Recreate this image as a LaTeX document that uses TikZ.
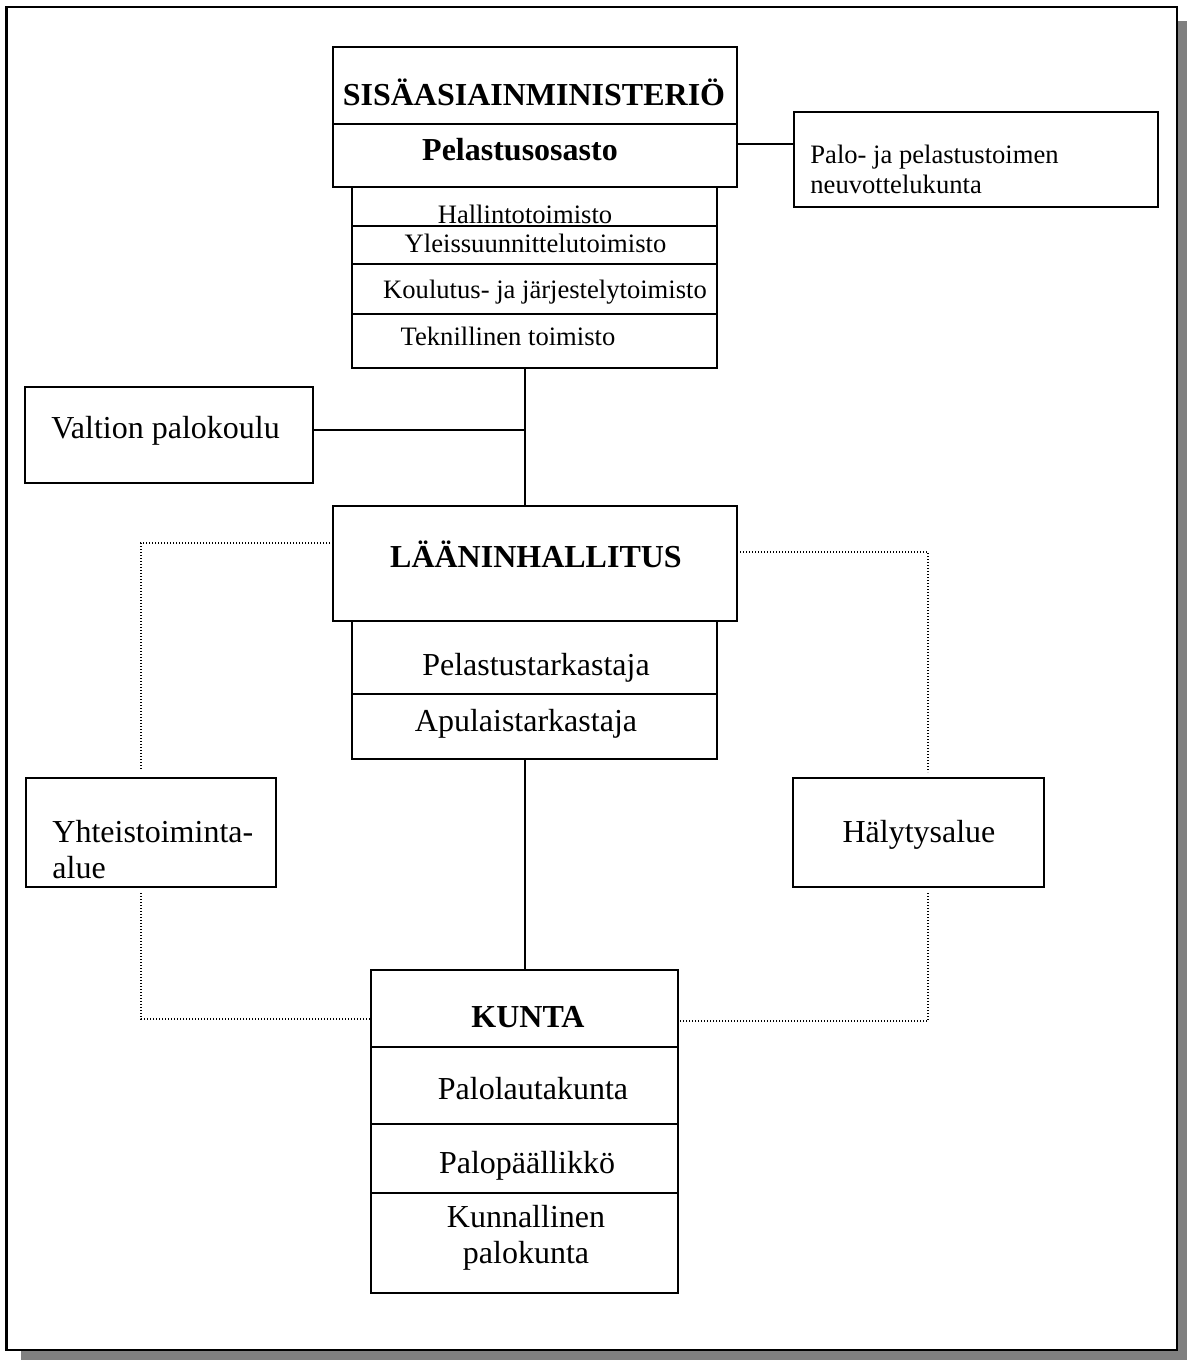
\documentclass[tikz,border=0pt]{standalone}
\usepackage{fontspec}
\setmainfont{Liberation Serif}
\begin{document}
\begin{tikzpicture}[x=0.5pt,y=-0.5pt,
	box/.style={draw,line width=1pt,inner sep=0pt,outer sep=0pt},
	sz/.style 2 args={minimum width=#1*0.5pt,minimum height=#2*0.5pt},
	txt/.style={inner sep=0pt,anchor=base,font=\fontsize{16}{18}\selectfont},
	hd/.style={txt,font=\fontsize{16}{18}\selectfont\bfseries},
	sm/.style={txt,font=\fontsize{13.3}{15}\selectfont},
	link/.style={line width=1pt},
	dotline/.style={line width=0.6pt,dash pattern=on 0.6pt off 0.9pt}]
	\useasboundingbox (0,0) rectangle (1187,1360);
	\fill[gray] (21,21) rectangle (1187,1360);
	\draw[line width=1.25pt,fill=white] (6.5,7) rectangle (1177,1350);
	% ministerio
	\node[box,sz={404}{77}] (sim) at (535,85.5) {};
	\node[box,sz={404}{63}] (osasto) at (535,155.5) {};
	\node[box,sz={365}{39}] (hallinto) at (534.5,206.5) {};
	\node[box,sz={365}{38}] (yleis) at (534.5,245) {};
	\node[box,sz={365}{50}] (koulutus) at (534.5,289) {};
	\node[box,sz={365}{54}] (tekn) at (534.5,341) {};
	\node[box,sz={364}{95}] (neuvottelu) at (976,159.5) {};
	\node[box,sz={288}{96}] (palokoulu) at (169,435) {};
	% laani
	\node[box,sz={404}{115}] (laani) at (535,563.5) {};
	\node[box,sz={365}{73}] (tarkastaja) at (534.5,657.5) {};
	\node[box,sz={365}{65}] (apulainen) at (534.5,726.5) {};
	\node[box,sz={250}{109}] (yhteis) at (151,832.5) {};
	\node[box,sz={251}{109}] (halytys) at (918.5,832.5) {};
	% kunta
	\node[box,sz={307}{77}] (kunta) at (524.5,1008.5) {};
	\node[box,sz={307}{77}] (lautakunta) at (524.5,1085.5) {};
	\node[box,sz={307}{69}] (paallikko) at (524.5,1158.5) {};
	\node[box,sz={307}{100}] (palokunta) at (524.5,1243) {};
	% texts
	\node[hd] (tSim) at (534,105) {SISÄASIAINMINISTERIÖ};
	\node[hd] (tOsasto) at (520,160) {Pelastusosasto};
	\node[sm] (tHallinto) at (525,223) {Hallintotoimisto};
	\node[sm] (tYleis) at (535.5,252) {Yleissuunnittelutoimisto};
	\node[sm] (tKoulutus) at (545,298) {Koulutus- ja järjestelytoimisto};
	\node[sm] (tTekn) at (508,345) {Teknillinen toimisto};
	\node[sm,anchor=base west,align=left] (tNeuv) at (810,193) {Palo- ja pelastustoimen\\neuvottelukunta};
	\node[txt,anchor=base west] (tPalokoulu) at (51,438) {Valtion palokoulu};
	\node[hd] (tLaani) at (536,567) {LÄÄNINHALLITUS};
	\node[txt] (tTarkastaja) at (536,675) {Pelastustarkastaja};
	\node[txt] (tApulainen) at (526,731) {Apulaistarkastaja};
	\node[txt,anchor=base west,align=left] (tYhteis) at (52,878) {Yhteistoiminta-\\alue};
	\node[txt] (tHalytys) at (919,842) {Hälytysalue};
	\node[hd] (tKunta) at (528,1027) {KUNTA};
	\node[txt] (tLautakunta) at (533,1099) {Palolautakunta};
	\node[txt] (tPaallikko) at (527,1173) {Palopäällikkö};
	\node[txt,align=center] (tPalokunta) at (526,1263) {Kunnallinen\\palokunta};
	% connectors
	\coordinate (spine) at (525,0);
	\draw[link] ([yshift=7.75pt]neuvottelu.west) -- ([yshift=7.75pt]neuvottelu.west -| osasto.east);
	\draw[link] (spine |- tekn.south) -- (spine |- laani.north);
	\draw[link] ([yshift=2.5pt]palokoulu.east) -- ([yshift=2.5pt]palokoulu.east -| spine);
	\draw[link] (spine |- apulainen.south) -- (spine |- kunta.north);
	\draw[dotline] ([yshift=10.25pt]laani.west) -| ([xshift=-5pt,yshift=4pt]yhteis.north);
	\draw[dotline] ([xshift=-5pt,yshift=-3pt]yhteis.south) |- ([yshift=-5.25pt]kunta.west);
	\draw[dotline] ([yshift=5.75pt]laani.east) -| ([xshift=4.75pt,yshift=3pt]halytys.north);
	\draw[dotline] ([xshift=4.75pt,yshift=-3pt]halytys.south) |- ([yshift=-6.25pt]kunta.east);
\end{tikzpicture}
\end{document}
